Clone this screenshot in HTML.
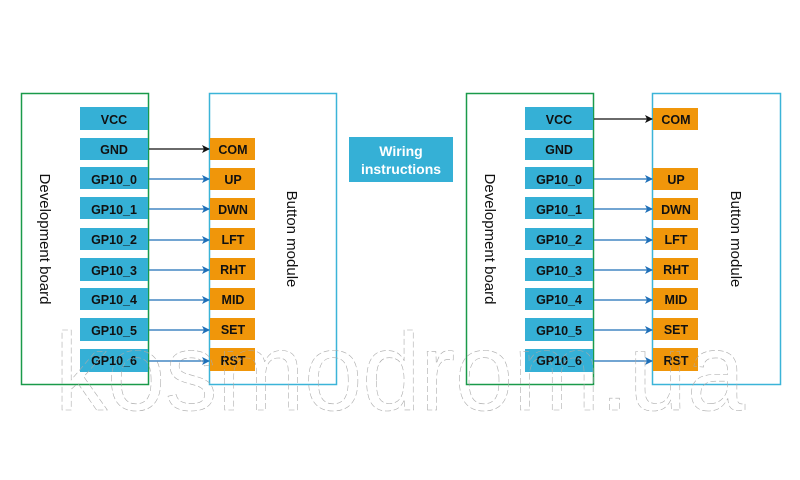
<!DOCTYPE html>
<html><head><meta charset="utf-8"><style>
html,body{margin:0;padding:0;background:#fff;width:800px;height:480px;overflow:hidden}
text{font-family:"Liberation Sans",sans-serif}
</style></head><body>
<svg width="800" height="480" viewBox="0 0 800 480" xmlns="http://www.w3.org/2000/svg">
<defs>
<marker id="ab" markerWidth="8" markerHeight="8" refX="7" refY="4" orient="auto" markerUnits="userSpaceOnUse"><path d="M0,0 L8,4 L0,8 L2,4z" fill="#1e6fb8"/></marker>
<marker id="ak" markerWidth="8" markerHeight="8" refX="7" refY="4" orient="auto" markerUnits="userSpaceOnUse"><path d="M0,0 L8,4 L0,8 L2,4z" fill="#111"/></marker>
</defs>
<g font-size="12.5" font-weight="bold" text-anchor="middle">
<!-- LEFT -->
<rect x="21.5" y="93.5" width="127" height="291" fill="none" stroke="#1a9a4a" stroke-width="1.5"/>
<rect x="209.5" y="93.5" width="127" height="291" fill="none" stroke="#3bb4d8" stroke-width="1.5"/>
<g fill="#35b0d6">
<rect x="80" y="107" width="68" height="23"/><rect x="80" y="138" width="68" height="22"/>
<rect x="80" y="167" width="68" height="22"/><rect x="80" y="197" width="68" height="22"/>
<rect x="80" y="228" width="68" height="22"/><rect x="80" y="258" width="68" height="23"/>
<rect x="80" y="288" width="68" height="22"/><rect x="80" y="318" width="68" height="23"/>
<rect x="80" y="349" width="68" height="23"/>
</g>
<g fill="#111">
<text x="114" y="124">VCC</text><text x="114" y="154">GND</text>
<text x="114" y="184">GP10_0</text><text x="114" y="214">GP10_1</text>
<text x="114" y="244">GP10_2</text><text x="114" y="275">GP10_3</text>
<text x="114" y="304">GP10_4</text><text x="114" y="335">GP10_5</text>
<text x="114" y="365">GP10_6</text>
</g>
<g fill="#f0960a">
<rect x="210" y="138" width="45" height="22"/><rect x="210" y="168" width="45" height="22"/>
<rect x="210" y="198" width="45" height="22"/><rect x="210" y="228" width="45" height="22"/>
<rect x="210" y="258" width="45" height="22"/><rect x="210" y="288" width="45" height="22"/>
<rect x="210" y="318" width="45" height="22"/><rect x="210" y="348" width="45" height="23"/>
</g>
<g fill="#111">
<text x="233" y="154">COM</text><text x="233" y="184">UP</text><text x="233" y="214">DWN</text>
<text x="233" y="244">LFT</text><text x="233" y="274">RHT</text><text x="233" y="304">MID</text>
<text x="233" y="334">SET</text><text x="233" y="365">RST</text>
</g>
<line x1="149" y1="149" x2="209" y2="149" stroke="#111" stroke-width="1.3" marker-end="url(#ak)"/>
<g stroke="#1e6fb8" stroke-width="1.3">
<line x1="149" y1="179" x2="209" y2="179" marker-end="url(#ab)"/>
<line x1="149" y1="209" x2="209" y2="209" marker-end="url(#ab)"/>
<line x1="149" y1="240" x2="209" y2="240" marker-end="url(#ab)"/>
<line x1="149" y1="270" x2="209" y2="270" marker-end="url(#ab)"/>
<line x1="149" y1="300" x2="209" y2="300" marker-end="url(#ab)"/>
<line x1="149" y1="330" x2="209" y2="330" marker-end="url(#ab)"/>
<line x1="149" y1="361" x2="209" y2="361" marker-end="url(#ab)"/>
</g>
<text transform="translate(40,239) rotate(90)" font-size="15" font-weight="normal" fill="#111">Development board</text>
<text transform="translate(287,239) rotate(90)" font-size="15" font-weight="normal" fill="#111">Button module</text>

<!-- Wiring -->
<rect x="349" y="137" width="104" height="45" fill="#35b0d6"/>
<text x="401" y="156" fill="#fff" font-size="14">Wiring</text>
<text x="401" y="174" fill="#fff" font-size="14">instructions</text>

<!-- RIGHT -->
<rect x="466.5" y="93.5" width="127" height="291" fill="none" stroke="#1a9a4a" stroke-width="1.5"/>
<rect x="652.5" y="93.5" width="128" height="291" fill="none" stroke="#3bb4d8" stroke-width="1.5"/>
<g fill="#35b0d6">
<rect x="525" y="107" width="68" height="23"/><rect x="525" y="138" width="68" height="22"/>
<rect x="525" y="167" width="68" height="22"/><rect x="525" y="197" width="68" height="22"/>
<rect x="525" y="228" width="68" height="22"/><rect x="525" y="258" width="68" height="23"/>
<rect x="525" y="288" width="68" height="22"/><rect x="525" y="318" width="68" height="23"/>
<rect x="525" y="349" width="68" height="23"/>
</g>
<g fill="#111">
<text x="559" y="124">VCC</text><text x="559" y="154">GND</text>
<text x="559" y="184">GP10_0</text><text x="559" y="214">GP10_1</text>
<text x="559" y="244">GP10_2</text><text x="559" y="275">GP10_3</text>
<text x="559" y="304">GP10_4</text><text x="559" y="335">GP10_5</text>
<text x="559" y="365">GP10_6</text>
</g>
<g fill="#f0960a">
<rect x="653" y="108" width="45" height="22"/><rect x="653" y="168" width="45" height="22"/>
<rect x="653" y="198" width="45" height="22"/><rect x="653" y="228" width="45" height="22"/>
<rect x="653" y="258" width="45" height="22"/><rect x="653" y="288" width="45" height="22"/>
<rect x="653" y="318" width="45" height="22"/><rect x="653" y="348" width="45" height="23"/>
</g>
<g fill="#111">
<text x="676" y="124">COM</text><text x="676" y="184">UP</text><text x="676" y="214">DWN</text>
<text x="676" y="244">LFT</text><text x="676" y="274">RHT</text><text x="676" y="304">MID</text>
<text x="676" y="334">SET</text><text x="676" y="365">RST</text>
</g>
<line x1="594" y1="119" x2="652" y2="119" stroke="#111" stroke-width="1.3" marker-end="url(#ak)"/>
<g stroke="#1e6fb8" stroke-width="1.3">
<line x1="594" y1="179" x2="652" y2="179" marker-end="url(#ab)"/>
<line x1="594" y1="209" x2="652" y2="209" marker-end="url(#ab)"/>
<line x1="594" y1="240" x2="652" y2="240" marker-end="url(#ab)"/>
<line x1="594" y1="270" x2="652" y2="270" marker-end="url(#ab)"/>
<line x1="594" y1="300" x2="652" y2="300" marker-end="url(#ab)"/>
<line x1="594" y1="330" x2="652" y2="330" marker-end="url(#ab)"/>
<line x1="594" y1="361" x2="652" y2="361" marker-end="url(#ab)"/>
</g>
<text transform="translate(485,239) rotate(90)" font-size="15" font-weight="normal" fill="#111">Development board</text>
<text transform="translate(731,239) rotate(90)" font-size="15" font-weight="normal" fill="#111">Button module</text>
</g>
<!-- watermark -->
<text x="400" y="410" text-anchor="middle" font-size="110" font-weight="normal" fill="none" stroke="#aaa" stroke-width="0.6" stroke-dasharray="6 3" textLength="690" lengthAdjust="spacingAndGlyphs">kosmodrom.ua</text>
</svg>
</body></html>
